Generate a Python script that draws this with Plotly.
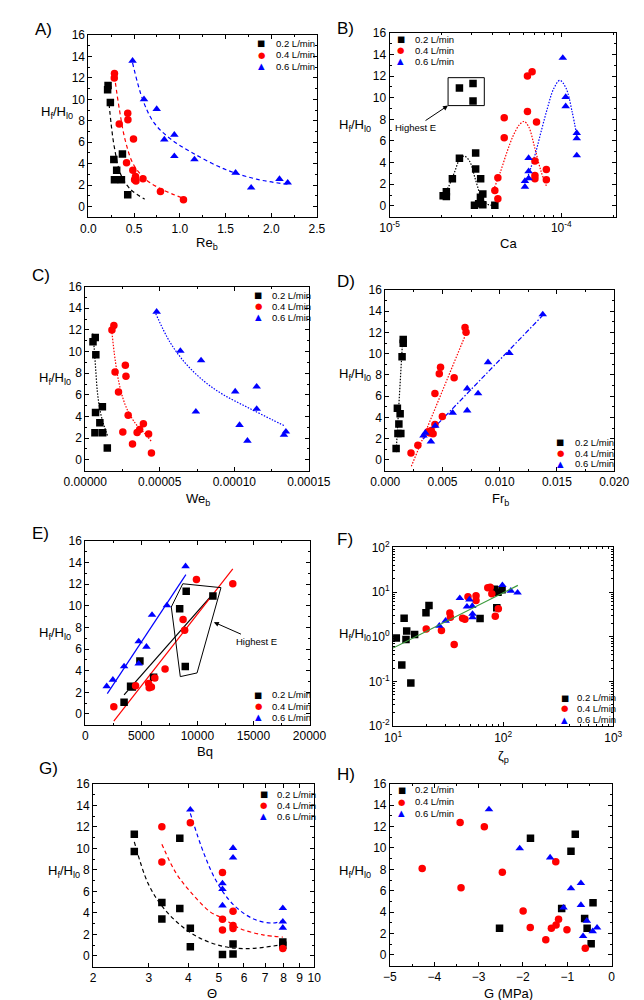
import plotly.graph_objects as go

W, H = 644, 1000
FONT = "Liberation Sans, Arial, sans-serif"
COLORS = ["#000000", "#ff0000", "#0000ff"]
SYMBOLS = ["square", "circle", "triangle-up"]
GLYPHS = ["\u25a0", "\u25cf", "\u25b2"]
SERIES = ["0.2 L/min", "0.4 L/min", "0.6 L/min"]
YTITLE = "H<sub>f</sub>/H<sub>l0</sub>"

# ---------------- Panel A : Re_b ----------------
a_x02 = [0.215, 0.21, 0.24, 0.278, 0.372, 0.309, 0.285, 0.361, 0.43]
a_y02 = [11.3, 10.9, 9.7, 4.4, 4.9, 3.4, 2.5, 2.5, 1.1]
a_x04 = [0.285, 0.283, 0.43, 0.432, 0.337, 0.493, 0.417, 0.486, 0.515, 0.52, 0.505, 0.597, 0.788, 1.04]
a_y04 = [12.4, 12.0, 8.7, 8.1, 7.7, 6.3, 4.1, 3.4, 2.8, 2.4, 2.5, 2.6, 1.4, 0.64]
a_x06 = [0.483, 0.608, 0.747, 0.83, 0.94, 0.94, 1.16, 1.61, 1.78, 2.09, 2.18]
a_y06 = [13.6, 10.0, 9.1, 6.25, 6.7, 4.7, 4.4, 3.15, 1.77, 2.57, 2.23]
a_fx02 = [0.226, 0.25, 0.285, 0.354, 0.458, 0.615]
a_fy02 = [9.6, 7.6, 5.47, 3.0, 1.63, 0.7]
a_fx04 = [0.285, 0.337, 0.406, 0.493, 0.632, 0.806, 1.03]
a_fy04 = [12.2, 9.15, 6.08, 3.93, 2.5, 1.6, 0.8]
a_fx06 = [0.483, 0.597, 0.719, 0.9, 1.14, 1.5, 1.85, 2.18]
a_fy06 = [13.4, 9.9, 7.8, 6.3, 5.0, 3.46, 2.54, 2.08]

# ---------------- Panel B : Ca ----------------
b_x02 = [2.55e-5, 3.06e-5, 3.06e-5, 2.05e-5, 2.14e-5, 2.14e-5, 2.32e-5, 2.55e-5, 3.17e-5,
         3.17e-5, 3.39e-5, 3.12e-5, 3.30e-5, 3.38e-5, 3.49e-5, 3.49e-5, 4.10e-5]
b_y02 = [10.9, 11.3, 9.7, 0.94, 1.3, 0.88, 2.5, 4.4, 4.9, 3.4, 2.5, 0.06, 0.2, 0.8, 1.1, 0.1, 0.06]
b_x04 = [4.10e-5, 4.27e-5, 4.27e-5, 4.65e-5, 4.65e-5, 6.35e-5, 6.76e-5, 6.35e-5, 7.17e-5,
         7.02e-5, 7.02e-5, 7.02e-5, 8.18e-5, 8.18e-5]
b_y04 = [1.42, 2.6, 0.67, 8.15, 6.3, 12.0, 12.4, 8.73, 7.76, 4.15, 2.82, 2.5, 3.36, 2.42]
b_x06 = [1.02e-4, 1.06e-4, 1.06e-4, 1.23e-4, 1.23e-4, 1.23e-4, 6.45e-5, 6.45e-5, 6.45e-5, 6.14e-5, 6.14e-5]
b_y06 = [13.67, 10.06, 9.2, 6.73, 6.24, 4.67, 4.42, 3.2, 2.55, 2.3, 1.76]
b_fx02 = [2.01e-5, 2.19e-5, 2.38e-5, 2.58e-5, 2.73e-5, 2.93e-5, 3.18e-5, 3.46e-5, 3.76e-5, 4.08e-5]
b_fy02 = [0.94, 1.7, 3.06, 4.42, 4.6, 4.1, 2.3, 0.64, 0.12, 0.06]
b_fx04 = [4.08e-5, 4.43e-5, 4.83e-5, 5.25e-5, 5.70e-5, 6.07e-5, 6.46e-5, 7.02e-5, 7.62e-5, 8.18e-5]
b_fy04 = [1.7, 3.2, 5.0, 6.5, 7.5, 7.8, 7.3, 5.3, 3.2, 1.85]
b_fx06 = [6.25e-5, 7.02e-5, 7.62e-5, 8.29e-5, 9.01e-5, 9.80e-5, 1.064e-4, 1.156e-4, 1.23e-4]
b_fy06 = [2.3, 4.7, 6.85, 9.0, 10.8, 11.6, 10.9, 8.7, 6.5]
b_box_x = [2.19e-5, 3.56e-5, 3.56e-5, 2.19e-5, 2.19e-5]
b_box_y = [11.85, 11.85, 9.27, 9.27, 11.85]
b_minor = [2e-5, 3e-5, 4e-5, 5e-5, 6e-5, 7e-5, 8e-5, 9e-5, 2e-4]

# ---------------- Panel C : We_b ----------------
c_x02 = [0.52e-5, 0.67e-5, 0.71e-5, 0.69e-5, 1.15e-5, 0.98e-5, 0.65e-5, 1.17e-5, 1.48e-5]
c_y02 = [10.9, 11.3, 9.7, 4.36, 4.9, 3.42, 2.5, 2.5, 1.1]
c_x04 = [1.92e-5, 1.79e-5, 2.69e-5, 2.0e-5, 2.73e-5, 2.23e-5, 2.88e-5, 2.52e-5, 3.9e-5, 3.65e-5,
         3.48e-5, 4.25e-5, 3.17e-5, 4.44e-5]
c_y04 = [12.4, 12.0, 8.73, 8.12, 7.73, 6.27, 4.12, 2.58, 3.33, 2.79, 2.52, 2.39, 1.45, 0.64]
c_x06 = [4.79e-5, 6.38e-5, 7.77e-5, 7.42e-5, 10.06e-5, 11.5e-5, 11.5e-5, 10.35e-5, 10.88e-5, 13.33e-5, 13.46e-5]
c_y06 = [13.67, 10.06, 9.18, 4.45, 6.3, 6.76, 4.7, 3.21, 1.76, 2.3, 2.6]
c_fx02 = [0.5e-5, 0.60e-5, 0.71e-5, 0.83e-5, 1.04e-5, 1.29e-5, 1.5e-5]
c_fy02 = [11.67, 10.3, 8.18, 6.06, 4.24, 3.03, 2.21]
c_fx04 = [1.75e-5, 2.02e-5, 2.33e-5, 2.75e-5, 3.38e-5, 4.0e-5, 4.42e-5]
c_fy04 = [12.3, 9.1, 6.7, 4.85, 3.33, 2.42, 1.73]
c_fx06 = [4.73e-5, 5.67e-5, 6.71e-5, 7.96e-5, 9.21e-5, 10.88e-5, 12.54e-5, 13.4e-5]
c_fy06 = [13.5, 10.9, 8.94, 7.27, 6.06, 4.85, 3.7, 3.12]

# ---------------- Panel D : Fr_b ----------------
d_x02 = [0.00157, 0.00157, 0.00147, 0.00106, 0.0013, 0.00119, 0.00111, 0.00136, 0.00095]
d_y02 = [11.34, 10.97, 9.71, 4.87, 4.35, 3.39, 2.5, 2.5, 1.08]
d_x04 = [0.00697, 0.00706, 0.00483, 0.00472, 0.00602, 0.00434, 0.00499, 0.00434, 0.00402,
         0.00391, 0.00418, 0.00374, 0.00285, 0.00225]
d_y04 = [12.45, 12.02, 8.72, 8.11, 7.74, 6.26, 4.1, 3.33, 2.77, 2.53, 2.47, 2.65, 1.39, 0.65]
d_x06 = [0.01376, 0.01085, 0.00898, 0.00716, 0.00811, 0.00716, 0.00589, 0.00437, 0.0035, 0.00334, 0.00399]
d_y06 = [13.69, 10.05, 9.19, 6.72, 6.26, 4.65, 4.44, 3.21, 2.56, 2.28, 1.73]
d_fx02 = [0.00095, 0.00152]
d_fy02 = [0.74, 11.28]
d_fx04 = [0.00228, 0.00706]
d_fy04 = [-0.59, 11.9]
d_fx06 = [0.00331, 0.01376]
d_fy06 = [1.97, 13.6]

# ---------------- Panel E : Bq ----------------
e_x02 = [9003, 11385, 8421, 4875, 8920, 4044, 4200, 6094, 3463]
e_y02 = [11.33, 10.9, 9.73, 4.9, 4.39, 2.55, 2.5, 3.39, 1.09]
e_x04 = [9917, 13158, 8726, 8864, 7119, 6205, 4488, 5651, 5706, 5900, 2548]
e_y04 = [12.42, 12.03, 8.73, 7.73, 4.15, 3.33, 2.6, 2.82, 2.42, 2.5, 0.67]
e_x06 = [8947, 7285, 5956, 4765, 5457, 4765, 3463, 2465, 1911]
e_y06 = [13.64, 10.03, 9.15, 6.7, 6.21, 4.64, 4.39, 3.15, 2.55]
e_fx02 = [3463, 11413]
e_fy02 = [1.76, 11.12]
e_fx04 = [2548, 13158]
e_fy04 = [-0.67, 13.4]
e_fx06 = [1967, 8975]
e_fy06 = [1.88, 12.88]
e_poly_x = [8698, 12105, 9972, 8476, 7673, 8698]
e_poly_y = [12.03, 11.67, 3.79, 3.45, 9.88, 12.03]

# ---------------- Panel F : zeta_p ----------------
f_x02 = [10.7, 12.6, 13.3, 13.1, 15.7, 12.0, 14.5, 19.9, 21.2, 61.7, 83.2, 89.8, 97.7, 87.5]
f_y02 = [0.94, 2.6, 1.34, 0.87, 1.12, 0.235, 0.093, 3.46, 5.0, 2.55, 11.5, 9.86, 11.3, 4.47]
f_x04 = [20.0, 27.5, 32.8, 33.2, 35.9, 42.8, 44.9, 47.9, 56.7, 56.7, 72.5, 76.3, 78.9, 84.8, 90.4]
f_y04 = [1.49, 1.39, 3.4, 2.73, 0.67, 2.6, 2.47, 7.9, 8.3, 6.5, 12.5, 12.9, 9.2, 2.88, 4.25]
f_x06 = [26.3, 30.0, 40.4, 46.9, 49.4, 52.4, 52.7, 52.7, 98.4, 117.3, 135.2]
f_y06 = [1.76, 2.27, 7.28, 4.7, 6.8, 4.85, 3.24, 2.73, 14.3, 10.7, 9.7]
f_fx = [10, 136]
f_fy = [0.56, 14.1]
f_xminor = [20, 30, 40, 50, 60, 70, 80, 90, 200, 300, 400, 500, 600, 700, 800, 900]
f_yminor = [0.02, 0.03, 0.04, 0.05, 0.06, 0.07, 0.08, 0.09, 0.2, 0.3, 0.4, 0.5, 0.6, 0.7, 0.8, 0.9,
            2, 3, 4, 5, 6, 7, 8, 9, 20, 30, 40, 50, 60, 70, 80, 90]

# ---------------- Panel G : Theta ----------------
g_x02 = [2.70, 2.70, 3.30, 3.30, 3.76, 3.76, 4.06, 4.06, 5.13, 5.54, 5.54, 7.96, 7.96]
g_y02 = [11.3, 9.71, 4.95, 3.42, 10.93, 4.4, 2.56, 0.85, 0.12, 1.1, 0.18, 1.28, 0.98]
g_x04 = [3.30, 3.30, 4.06, 5.13, 5.13, 5.13, 5.54, 5.54, 5.54, 7.96]
g_y04 = [12.0, 8.73, 12.37, 7.76, 3.39, 2.41, 4.15, 2.81, 2.53, 0.67]
g_x06 = [4.06, 5.54, 5.54, 5.13, 5.13, 5.13, 7.96, 7.96, 7.96]
g_y06 = [13.59, 10.02, 9.13, 6.73, 6.2, 4.67, 4.43, 3.18, 2.6]
g_fx02 = [2.70, 2.98, 3.30, 3.74, 4.29, 5.13, 6.15, 7.96]
g_fy02 = [10.6, 6.78, 4.64, 2.96, 1.74, 0.89, 0.67, 1.04]
g_fx04 = [3.30, 3.66, 4.09, 4.69, 5.13, 5.87, 6.89, 7.96]
g_fy04 = [10.38, 7.69, 5.86, 4.09, 3.5, 2.5, 1.95, 1.74]
g_fx06 = [4.06, 4.48, 4.91, 5.54, 6.44, 7.38, 7.96]
g_fy06 = [13.25, 9.53, 6.93, 4.79, 3.42, 3.05, 3.27]
g_ticks = [2, 3, 4, 5, 6, 7, 8, 9, 10]

# ---------------- Panel H : G (MPa) ----------------
h_x02 = [-0.82, -1.83, -0.917, -0.42, -1.127, -0.609, -0.553, -2.528, -0.462]
h_y02 = [11.28, 10.91, 9.69, 4.87, 4.35, 3.4, 2.48, 2.48, 1.04]
h_x04 = [-3.417, -2.871, -4.272, -1.26, -2.465, -3.396, -1.996, -1.197, -1.835, -1.253, -1.359,
         -1.008, -1.485, -0.595]
h_y04 = [12.38, 11.98, 8.09, 8.7, 7.72, 6.28, 4.11, 3.34, 2.57, 2.79, 2.48, 2.36, 1.41, 0.61]
h_x06 = [-2.766, -2.073, -1.387, -0.693, -0.917, -0.693, -1.085, -0.56, -0.329, -0.427, -0.644]
h_y06 = [13.61, 9.96, 9.1, 6.71, 6.22, 4.66, 4.41, 3.19, 2.54, 2.21, 1.75]

# ====================================================================
fig = go.Figure()
annotations = []


def fx(p):
    return p / W


def fy(p):
    return 1 - p / H


def refs(i):
    return ("x" if i == 1 else f"x{i}"), ("y" if i == 1 else f"y{i}")


def add_pts(i, xs, ys, k):
    xr, yr = refs(i)
    fig.add_trace(go.Scatter(x=xs, y=ys, mode="markers", xaxis=xr, yaxis=yr, showlegend=False,
                             marker=dict(symbol=SYMBOLS[k], color=COLORS[k], size=7.5,
                                         line=dict(width=0)), name=SERIES[k]))


def add_line(i, xs, ys, color, dash, width=1.2, spline=True):
    xr, yr = refs(i)
    fig.add_trace(go.Scatter(x=xs, y=ys, mode="lines", xaxis=xr, yaxis=yr, showlegend=False,
                             line=dict(color=color, dash=dash, width=width,
                                       shape="spline" if spline else "linear"),
                             hoverinfo="skip"))


def text(t, x, y, size, xanchor="center", yanchor="middle", color="black", family=FONT):
    annotations.append(dict(text=t, x=fx(x), y=fy(y), xref="paper", yref="paper", showarrow=False,
                            xanchor=xanchor, yanchor=yanchor,
                            font=dict(size=size, family=family, color=color)))


def legend(mx, tx, ys):
    for k in range(3):
        text(GLYPHS[k], mx, ys[k], 8.5, color=COLORS[k], family="DejaVu Sans")
        text(SERIES[k], tx, ys[k], 9.5, xanchor="left")


base = dict(showline=True, linecolor="black", linewidth=1, mirror="ticks", ticks="inside",
            ticklen=4, tickwidth=1, tickcolor="black", showgrid=False, zeroline=False,
            tickfont=dict(size=12, family=FONT, color="black"))


def set_axes(i, xd, yd, xopt, yopt):
    xn = "xaxis" if i == 1 else f"xaxis{i}"
    yn = "yaxis" if i == 1 else f"yaxis{i}"
    xr, yr = refs(i)
    xa = dict(base, domain=[fx(xd[0]), fx(xd[1])], anchor=yr, **xopt)
    ya = dict(base, domain=[fy(yd[1]), fy(yd[0])], anchor=xr, **yopt)
    fig.update_layout({xn: xa, yn: ya})


ylin = dict(range=[-1, 16], tick0=0, dtick=2,
            minor=dict(ticks="inside", ticklen=2, tickcolor="black", dtick=1, tick0=0))


def xlin(r, d, fmt=None):
    o = dict(range=r, tick0=0, dtick=d,
             minor=dict(ticks="inside", ticklen=2, tickcolor="black", dtick=d / 2, tick0=0))
    if fmt:
        o["tickformat"] = fmt
    return o


def logminor(vals):
    return dict(ticks="inside", ticklen=2, tickcolor="black", tickmode="array", tickvals=vals)


# --- A
set_axes(1, (62.7, 308), (18.3, 203.6), xlin([0, 2.5], 0.5, ".1f"), ylin)
for k, (xs, ys) in enumerate([(a_x02, a_y02), (a_x04, a_y04), (a_x06, a_y06)]):
    add_pts(1, xs, ys, k)
for k, (xs, ys) in enumerate([(a_fx02, a_fy02), (a_fx04, a_fy04), (a_fx06, a_fy06)]):
    add_line(1, xs, ys, COLORS[k], "4px,3px")
legend(248, 262, [26.7, 38.3, 50])
text("A)", 3, 13, 17, xanchor="left")
text(YTITLE, 10, 97, 13, xanchor="left")
text("Re<sub>b</sub>", 190, 230, 13)

# --- B
set_axes(2, (386, 628.7), (16, 203),
         dict(type="log", range=[-5, -3.683], tickvals=[1e-5, 1e-4],
              ticktext=["10<sup>-5</sup>", "10<sup>-4</sup>"], minor=logminor(b_minor)), ylin)
for k, (xs, ys) in enumerate([(b_fx02, b_fy02), (b_fx04, b_fy04), (b_fx06, b_fy06)]):
    add_line(2, xs, ys, COLORS[k], "1.5px,1.5px")
for k, (xs, ys) in enumerate([(b_x02, b_y02), (b_x04, b_y04), (b_x06, b_y06)]):
    add_pts(2, xs, ys, k)
add_line(2, b_box_x, b_box_y, "black", "solid", width=1, spline=False)
legend(398, 411, [22.7, 33.7, 45])
text("B)", 327, 12, 17, xanchor="left")
text(YTITLE, 329, 110, 13, xanchor="left")
text("Ca", 514, 230, 13)
annotations.append(dict(text="Highest E", x=fx(448.7), y=fy(90), xref="paper", yref="paper",
                        showarrow=True, ax=-33, ay=22, arrowhead=2, arrowsize=1, arrowwidth=1,
                        arrowcolor="black", font=dict(size=9.5, family=FONT, color="black")))

# --- C
set_axes(3, (59.3, 299.3), (274, 461), xlin([0, 0.00015], 0.00005, ".5f"), ylin)
for k, (xs, ys) in enumerate([(c_fx02, c_fy02), (c_fx04, c_fy04), (c_fx06, c_fy06)]):
    add_line(3, xs, ys, COLORS[k], "1.5px,1.5px")
for k, (xs, ys) in enumerate([(c_x02, c_y02), (c_x04, c_y04), (c_x06, c_y06)]):
    add_pts(3, xs, ys, k)
legend(245, 258, [282.7, 293.7, 305])
text("C)", 0, 263, 17, xanchor="left")
text(YTITLE, 7, 367, 13, xanchor="left")
text("We<sub>b</sub>", 180, 490, 13)

# --- D
set_axes(4, (381.3, 627), (277.3, 461), xlin([0, 0.02], 0.005, ".3f"), ylin)
add_line(4, d_fx02, d_fy02, COLORS[0], "1.5px,1.5px", spline=False)
add_line(4, d_fx04, d_fy04, COLORS[1], "1.5px,1.5px", spline=False)
add_line(4, d_fx06, d_fy06, COLORS[2], "5px,2px,1.5px,2px", spline=False)
for k, (xs, ys) in enumerate([(d_x02, d_y02), (d_x04, d_y04), (d_x06, d_y06)]):
    add_pts(4, xs, ys, k)
legend(569, 583, [432.3, 443.3, 454])
text("D)", 327, 269, 17, xanchor="left")
text(YTITLE, 329, 363, 13, xanchor="left")
text("Fr<sub>b</sub>", 505, 490, 13)

# --- E
set_axes(5, (59.3, 300), (532.3, 719.3), xlin([0, 20000], 5000, "d"), ylin)
for k, (xs, ys) in enumerate([(e_fx02, e_fy02), (e_fx04, e_fy04), (e_fx06, e_fy06)]):
    add_line(5, xs, ys, COLORS[k], "solid", width=1.2, spline=False)
add_line(5, e_poly_x, e_poly_y, "black", "solid", width=1, spline=False)
for k, (xs, ys) in enumerate([(e_x02, e_y02), (e_x04, e_y04), (e_x06, e_y06)]):
    add_pts(5, xs, ys, k)
legend(245, 258, [689, 700.7, 711.7])
text("E)", 0, 525, 17, xanchor="left")
text(YTITLE, 7, 627, 13, xanchor="left")
text("Bq", 188, 746, 13)
annotations.append(dict(text="Highest E", x=fx(197.3), y=fy(615), xref="paper", yref="paper",
                        showarrow=True, ax=43, ay=19, arrowhead=2, arrowsize=1, arrowwidth=1,
                        arrowcolor="black", font=dict(size=9.5, family=FONT, color="black")))

# --- F
set_axes(6, (389.7, 626), (539, 720.7),
         dict(type="log", range=[1, 3], tickvals=[10, 100, 1000],
              ticktext=["10<sup>1</sup>", "10<sup>2</sup>", "10<sup>3</sup>"],
              minor=logminor(f_xminor)),
         dict(type="log", range=[-2, 2], tickvals=[0.01, 0.1, 1, 10, 100],
              ticktext=["10<sup>-2</sup>", "10<sup>-1</sup>", "10<sup>0</sup>", "10<sup>1</sup>",
                        "10<sup>2</sup>"], minor=logminor(f_yminor)))
for k, (xs, ys) in enumerate([(f_x02, f_y02), (f_x04, f_y04), (f_x06, f_y06)]):
    add_pts(6, xs, ys, k)
add_line(6, f_fx, f_fy, "#3a9a3a", "solid", width=1.2, spline=False)
legend(574, 585, [691.7, 702.7, 714])
text("F)", 327, 531, 17, xanchor="left")
text(YTITLE, 329, 628, 13, xanchor="left")
text("\u03b6<sub>p</sub>", 508, 752, 13)

# --- G
set_axes(7, (67.7, 305), (779.3, 965),
         dict(type="log", range=[0.30103, 1], tickvals=g_ticks, ticktext=[str(t) for t in g_ticks]),
         ylin)
for k, (xs, ys) in enumerate([(g_fx02, g_fy02), (g_fx04, g_fy04), (g_fx06, g_fy06)]):
    add_line(7, xs, ys, COLORS[k], "4px,3px")
for k, (xs, ys) in enumerate([(g_x02, g_y02), (g_x04, g_y04), (g_x06, g_y06)]):
    add_pts(7, xs, ys, k)
legend(251, 263, [790, 801, 812])
text("G)", 7, 764, 17, xanchor="left")
text(YTITLE, 17, 868, 13, xanchor="left")
text("\u0398", 195, 992, 13)

# --- H
set_axes(8, (386.3, 624.3), (779.3, 964), xlin([-5, 0], 1), ylin)
for k, (xs, ys) in enumerate([(h_x02, h_y02), (h_x04, h_y04), (h_x06, h_y06)]):
    add_pts(8, xs, ys, k)
legend(399, 411, [785.3, 797.7, 809.3])
text("H)", 327, 770, 17, xanchor="left")
text(YTITLE, 329, 868, 13, xanchor="left")
text("G (MPa)", 514, 992, 13)

fig.update_layout(width=W, height=H, margin=dict(l=0, r=0, t=0, b=0),
                  plot_bgcolor="white", paper_bgcolor="white", showlegend=False,
                  annotations=annotations, font=dict(family=FONT, color="black"))

fig.write_html("out.html")
